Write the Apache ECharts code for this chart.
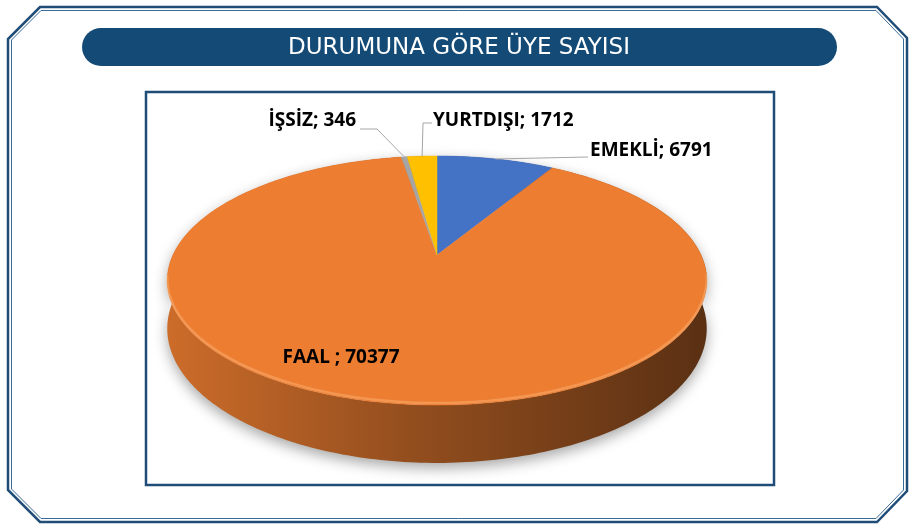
<!DOCTYPE html>
<html>
<head>
<meta charset="utf-8">
<script src="https://cdn.jsdelivr.net/npm/echarts@6/dist/echarts.min.js"></script>
<style>
  html, body { margin: 0; padding: 0; background: #fff; }
  #chart { width: 909px; height: 524px; }
</style>
</head>
<body>
<div id="chart"></div>
<script>
// data, clockwise from 12 o'clock like the original
const categories = ['EMEKLİ', 'FAAL ', 'İŞSİZ', 'YURTDIŞI'];
const values = [6791, 70377, 346, 1712];
const colors = ['#4472C4', '#ED7D31', '#A5A5A5', '#FFC000'];
const titleText = 'DURUMUNA GÖRE ÜYE SAYISI';

// label layout: [x, y, align], leader bend points (null = inside label)
const labelPos = [[590, 151, 'left'], [341, 358, 'center'], [356, 121, 'right'], [433, 121, 'left']];
const leaderBends = [[[588, 157]], null, [[377, 129], [360, 129]], [[423, 123], [432, 123]]];

// fake 3d projection of the disc
const CX = 437, CY = 255, R = 264, A = 119.3, B = 0.205, H = 46;
function proj(theta, r, drop) {
  const u = r * Math.sin(theta), v = -r * Math.cos(theta);
  const d = 1 - B * v;
  return [CX + R * u / d, CY + (A * v + (drop || 0)) / d];
}

// darken a hex colour by factor f (0..1)
function shade(hex, f) {
  const n = parseInt(hex.slice(1), 16);
  const r = Math.round(((n >> 16) & 255) * f), g = Math.round(((n >> 8) & 255) * f), b = Math.round((n & 255) * f);
  return 'rgb(' + r + ',' + g + ',' + b + ')';
}

const total = values.reduce((a, b) => a + b, 0);
const starts = [];
values.reduce((acc, v) => { starts.push(acc); return acc + v; }, 0);
function angles(i) {
  const a0 = starts[i] / total * Math.PI * 2;
  const a1 = (starts[i] + values[i]) / total * Math.PI * 2;
  return [a0, a1];
}
function arcPts(a0, a1, drop) {
  const n = Math.max(2, Math.ceil((a1 - a0) / (Math.PI / 180)));
  const pts = [];
  for (let k = 0; k <= n; k++) pts.push(proj(a0 + (a1 - a0) * k / n, 1, drop));
  return pts;
}

const chart = echarts.init(document.getElementById('chart'), null, { renderer: 'canvas' });
const seriesData = values.map((v, i) => ({ name: categories[i], value: [v] }));

function renderSide(params, api) {
  const i = params.dataIndex;
  const [a0, a1] = angles(i);
  const top = arcPts(a0, a1, 0);
  const bottom = arcPts(a0, a1, H).reverse();
  const c = colors[i];
  return {
    type: 'polygon',
    shape: { points: top.concat(bottom) },
    style: {
      fill: new echarts.graphic.LinearGradient(168, 0, 707, 0, [
        { offset: 0, color: shade(c, 0.86) },
        { offset: 0.45, color: shade(c, 0.62) },
        { offset: 1, color: shade(c, 0.38) }
      ], true),
      shadowBlur: 14,
      shadowColor: 'rgba(0,0,0,0.35)',
      shadowOffsetY: 5
    }
  };
}

function renderTop(params, api) {
  const i = params.dataIndex;
  const [a0, a1] = angles(i);
  const children = [];
  const apex = proj(0, 0, 0);
  children.push({
    type: 'polygon',
    shape: { points: [apex].concat(arcPts(a0, a1, 0)) },
    style: { fill: colors[i], stroke: colors[i], lineWidth: 0.5 }
  });
  // soft highlight along the visible front rim
  const rim = arcPts(a0, a1, 0).filter(p => p[1] > CY + 20);
  if (rim.length > 1) {
    children.push({
      type: 'polyline',
      shape: { points: rim.map(p => [p[0], p[1] - 2]) },
      style: { stroke: 'rgba(255,200,150,0.35)', lineWidth: 2.5, fill: null }
    });
  }
  const lp = labelPos[i];
  const bends = leaderBends[i];
  if (bends) {
    const mid = proj((a0 + a1) / 2, 1, 0);
    children.push({
      type: 'polyline',
      shape: { points: [mid].concat(bends) },
      style: { stroke: '#A6A6A6', lineWidth: 1, fill: null }
    });
  }
  children.push({
    type: 'text',
    x: lp[0], y: lp[1],
    style: {
      text: categories[i] + '; ' + api.value(0),
      fill: '#000',
      font: 'bold 19px "Open Sans", sans-serif',
      align: lp[2],
      verticalAlign: 'middle'
    }
  });
  return { type: 'group', children: children };
}

const frameColor = '#1F4D78';
chart.setOption({
  animation: false,
  backgroundColor: '#fff',
  graphic: [
    {
      type: 'polygon', z: 0,
      shape: { points: [[40, 7], [877, 7], [907, 38], [907, 491], [877, 522], [40, 522], [8, 490], [8, 39]] },
      style: { fill: null, stroke: frameColor, lineWidth: 2.5 }
    },
    {
      type: 'polygon', z: 0,
      shape: { points: [[41, 10.5], [876, 10.5], [903.5, 39], [903.5, 490], [876, 518.5], [41, 518.5], [11.5, 489], [11.5, 40]] },
      style: { fill: null, stroke: '#3A6A96', lineWidth: 1 }
    },
    {
      type: 'rect', z: 0,
      shape: { x: 82, y: 28, width: 755, height: 38, r: 19 },
      style: { fill: '#144A76' }
    },
    {
      type: 'text', z: 1, x: 459, y: 48,
      style: {
        text: titleText, fill: '#fff',
        font: '23px "DejaVu Sans", sans-serif',
        align: 'center', verticalAlign: 'middle'
      }
    },
    {
      type: 'rect', z: 0,
      shape: { x: 146, y: 92, width: 628, height: 393 },
      style: { fill: null, stroke: frameColor, lineWidth: 2.5 }
    }
  ],
  series: [
    { type: 'custom', coordinateSystem: 'none', z: 2, renderItem: renderSide, data: seriesData },
    { type: 'custom', coordinateSystem: 'none', z: 3, renderItem: renderTop, data: seriesData }
  ]
});
</script>
</body>
</html>
